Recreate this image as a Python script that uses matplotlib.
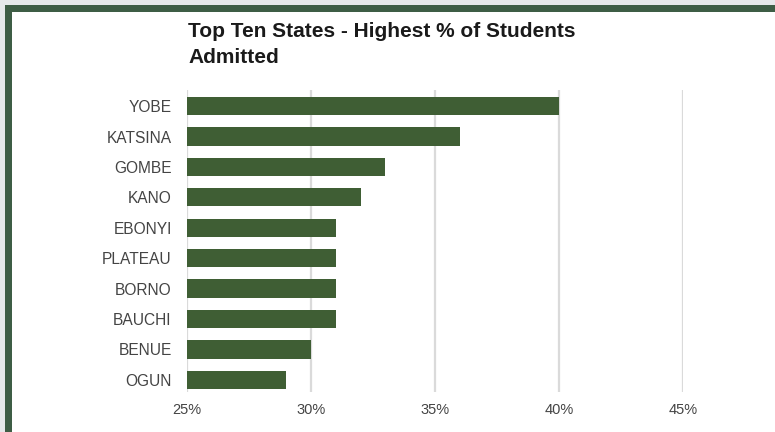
import matplotlib
matplotlib.use("Agg")
import matplotlib.pyplot as plt
from matplotlib.patches import Rectangle
from matplotlib.ticker import FuncFormatter

states = ["YOBE", "KATSINA", "GOMBE", "KANO", "EBONYI",
          "PLATEAU", "BORNO", "BAUCHI", "BENUE", "OGUN"]
admitted_pct = [40, 36, 33, 32, 31, 31, 31, 31, 30, 29]
x_ticks = [25, 30, 35, 40, 45]

bar_color = "#3f5e34"
frame_color = "#3e5d45"

plt.rcParams["font.family"] = ["Liberation Sans", "DejaVu Sans"]

W, H = 775, 432
fig = plt.figure(figsize=(W / 100, H / 100), dpi=100)
fig.patch.set_facecolor("#e6e8ea")

# green frame and white card (cropped on the right and bottom)
fig.patches.append(Rectangle((5 / W, 0), 1, 1 - 5 / H, transform=fig.transFigure,
                             facecolor=frame_color, edgecolor="none", zorder=-2))
fig.patches.append(Rectangle((12 / W, 0), 1, 1 - 12 / H, transform=fig.transFigure,
                             facecolor="white", edgecolor="none", zorder=-1))

ax = fig.add_axes([187 / W, 1 - 392 / H, (683 - 187) / W, 302 / H])
ax.set_facecolor("none")
ypos = list(range(len(states)))
ax.barh(ypos, [v - x_ticks[0] for v in admitted_pct], left=x_ticks[0],
        height=0.6, color=bar_color, zorder=3)
ax.set_xlim(25, 45)
ax.set_ylim(9.4, -0.53)
ax.set_xticks(x_ticks)
ax.xaxis.set_major_formatter(FuncFormatter(lambda v, p: f"{v:.0f}%"))
ax.set_yticks(ypos)
ax.set_yticklabels(states)
ax.tick_params(axis="both", length=0, labelcolor="#444444")
ax.tick_params(axis="y", pad=11, labelsize=11.2)
ax.tick_params(axis="x", pad=8, labelsize=10.5)
ax.grid(axis="x", color="#dadada", linewidth=1.6, zorder=0)
for s in ax.spines.values():
    s.set_visible(False)

fig.text(188 / W, 1 - 22 / H, "Top Ten States - Highest % of Students\nAdmitted",
         fontsize=15, fontweight="bold", color="#1a1a1a", va="top", ha="left",
         linespacing=1.45)

fig.savefig("out.png", dpi=100)
